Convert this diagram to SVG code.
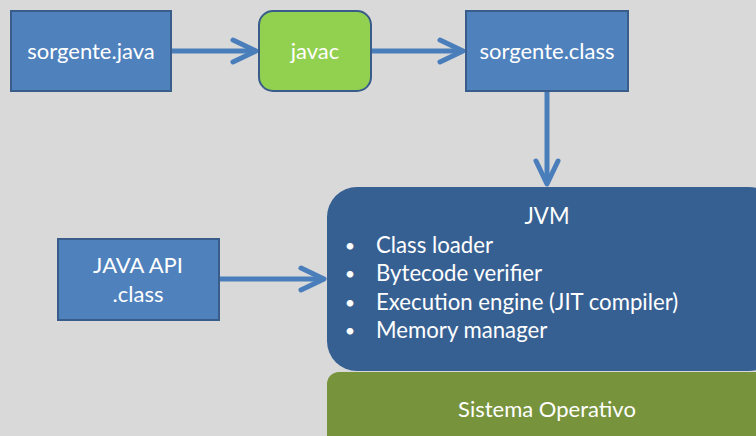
<svg xmlns="http://www.w3.org/2000/svg" width="756" height="436" viewBox="0 0 756 436">
<defs>
<style>
.box{fill:#4f81bd;stroke:#385d8a;stroke-width:2}
.lbl{font-family:"Lato","Liberation Sans",sans-serif;font-size:22px;fill:#ffffff;text-anchor:middle}
.jvm{font-family:"Lato","Liberation Sans",sans-serif;font-size:22.2px;fill:#ffffff}
.bul{font-family:"Lato","Liberation Sans",sans-serif;font-size:18px;fill:#ffffff;text-anchor:middle}
.conn{fill:none;stroke:#4a7ebb;stroke-width:5}
</style>
<marker id="chev" markerUnits="userSpaceOnUse" viewBox="-30 -15 34 30" markerWidth="34" markerHeight="30" refX="0" refY="0" orient="auto">
<path d="M-23,-11 L0,0 L-23,11" fill="none" stroke="#4a7ebb" stroke-width="5" stroke-linecap="round" stroke-linejoin="round"/>
</marker>
</defs>
<rect width="756" height="436" fill="#d9d9d9"/>
<g id="connectors">
<line class="conn" x1="172" y1="51" x2="256" y2="51" marker-end="url(#chev)"/>
<line class="conn" x1="372" y1="51" x2="463" y2="51" marker-end="url(#chev)"/>
<line class="conn" x1="547" y1="92" x2="547" y2="184" marker-end="url(#chev)"/>
<line class="conn" x1="220" y1="279" x2="324" y2="279" marker-end="url(#chev)"/>
</g>
<g id="sorgente-java">
<rect class="box" x="11" y="11" width="160" height="80"/>
<text class="lbl" x="91" y="59">sorgente.java</text>
</g>
<g id="javac">
<rect x="259" y="11" width="112" height="80" rx="14" fill="#92d050" stroke="#385d8a" stroke-width="2"/>
<text class="lbl" x="315" y="59">javac</text>
</g>
<g id="sorgente-class">
<rect class="box" x="466" y="11" width="162" height="80"/>
<text class="lbl" x="547" y="59">sorgente.class</text>
</g>
<g id="java-api">
<rect class="box" x="58" y="239" width="161" height="81"/>
<text class="lbl" x="138" y="273">JAVA API</text>
<text class="lbl" x="138" y="302">.class</text>
</g>
<g id="jvm">
<rect x="327" y="187" width="452" height="184" rx="30" fill="#376092"/>
<text class="jvm" x="547" y="224" text-anchor="middle">JVM</text>
<text class="bul" x="350" y="252">•</text><text class="jvm" x="376" y="253">Class loader</text>
<text class="bul" x="350" y="280">•</text><text class="jvm" x="376" y="281">Bytecode verifier</text>
<text class="bul" x="350" y="309">•</text><text class="jvm" x="376" y="310">Execution engine (JIT compiler)</text>
<text class="bul" x="350" y="337">•</text><text class="jvm" x="376" y="338">Memory manager</text>
</g>
<g id="sistema-operativo">
<rect x="327" y="372" width="452" height="90" rx="12" fill="#77933c"/>
<text class="lbl" x="547" y="417">Sistema Operativo</text>
</g>
</svg>
